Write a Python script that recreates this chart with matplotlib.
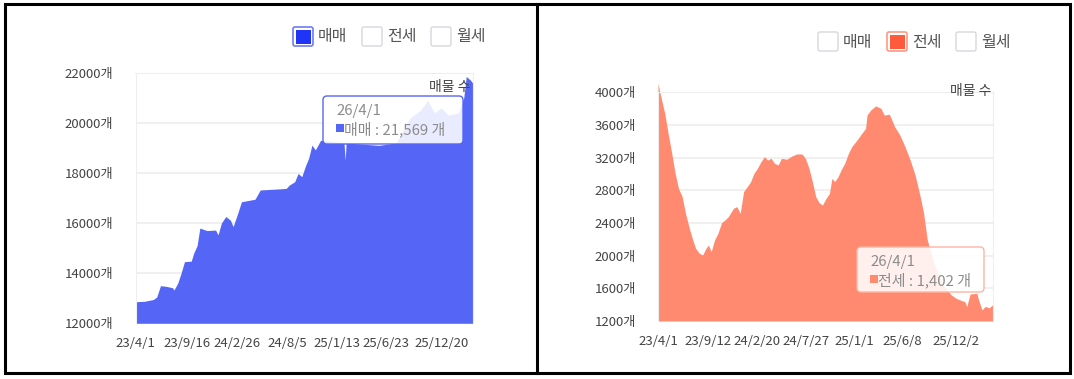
import matplotlib
matplotlib.use("Agg")
import matplotlib.pyplot as plt
import matplotlib.transforms as mtransforms
from matplotlib.patches import FancyBboxPatch, Rectangle
import pandas as pd

plt.rcParams["font.family"] = ["Noto Sans CJK KR", "DejaVu Sans"]

# 매매 매물 수
sale_dates = [
    "2023-04-01", "2023-05-01", "2023-05-29", "2023-06-09", "2023-06-21", "2023-07-07",
    "2023-07-30", "2023-08-04", "2023-08-16", "2023-08-27", "2023-09-07", "2023-09-29",
    "2023-10-07", "2023-10-18", "2023-10-27", "2023-11-19", "2023-12-17", "2023-12-25",
    "2024-01-05", "2024-01-19", "2024-02-03", "2024-02-12", "2024-02-27", "2024-03-10",
    "2024-04-23", "2024-05-10", "2024-08-02", "2024-08-13", "2024-08-30", "2024-09-10",
    "2024-09-22", "2024-10-03", "2024-10-14", "2024-10-25", "2024-11-05", "2024-11-22",
    "2025-02-06", "2025-02-10", "2025-02-13", "2025-04-06", "2025-05-31", "2025-07-26",
    "2025-09-09", "2025-10-13", "2025-11-04", "2025-11-27", "2025-12-19", "2026-01-10",
    "2026-02-13", "2026-03-02", "2026-03-10", "2026-03-24", "2026-04-01",
]
sale_values = [
    12860, 12880, 12950, 13050, 13500, 13480,
    13420, 13330, 13600, 14000, 14460, 14480,
    14800, 15100, 15800, 15700, 15720, 15530,
    16000, 16260, 16120, 15860, 16390, 16850,
    16950, 17320, 17380, 17520, 17650, 17980,
    17850, 18250, 18580, 19110, 18920, 19300,
    19200, 18500, 19200, 19150, 19100, 19200,
    20200, 20500, 20900, 20400, 20600, 20300,
    20400, 21000, 21850, 21700, 21569,
]

# 전세 매물 수
jeonse_dates = [
    "2023-04-01", "2023-04-09", "2023-04-23", "2023-05-05", "2023-05-16", "2023-05-27",
    "2023-06-07", "2023-06-19", "2023-06-30", "2023-07-11", "2023-07-22", "2023-08-02",
    "2023-08-14", "2023-08-25", "2023-09-05", "2023-09-13", "2023-09-22", "2023-10-03",
    "2023-10-14", "2023-10-26", "2023-11-06", "2023-11-17", "2023-12-04", "2023-12-15",
    "2023-12-26", "2024-01-06", "2024-01-18", "2024-01-29", "2024-02-09", "2024-02-20",
    "2024-03-03", "2024-03-14", "2024-03-25", "2024-04-05", "2024-04-16", "2024-04-28",
    "2024-05-09", "2024-05-26", "2024-06-12", "2024-06-28", "2024-07-15", "2024-07-26",
    "2024-08-07", "2024-08-18", "2024-08-29", "2024-09-09", "2024-09-20", "2024-10-02",
    "2024-10-13", "2024-10-21", "2024-10-30", "2024-11-10", "2024-11-21", "2024-12-02",
    "2024-12-14", "2024-12-25", "2025-01-11", "2025-01-27", "2025-02-08", "2025-02-13",
    "2025-02-25", "2025-03-13", "2025-03-30", "2025-04-10", "2025-04-27", "2025-05-14",
    "2025-05-31", "2025-06-17", "2025-07-04", "2025-07-20", "2025-08-06", "2025-08-17",
    "2025-08-29", "2025-09-20", "2025-10-18", "2025-11-15", "2025-12-02", "2025-12-19",
    "2025-12-30", "2026-01-05", "2026-01-16", "2026-02-07", "2026-02-13", "2026-02-24",
    "2026-03-07", "2026-03-19", "2026-04-01",
]
jeonse_values = [
    4110, 3967, 3743, 3478, 3253, 3008,
    2824, 2722, 2518, 2355, 2212, 2090,
    2029, 2008, 2090, 2130, 2049, 2192,
    2273, 2404, 2437, 2478, 2580, 2600,
    2518, 2784, 2845, 2906, 3008, 3069,
    3151, 3212, 3171, 3192, 3131, 3110,
    3192, 3180, 3220, 3245, 3245, 3192,
    3069, 2906, 2722, 2649, 2620, 2702,
    2763, 2947, 2906, 2967, 3057, 3131,
    3253, 3335, 3416, 3498, 3559, 3722,
    3784, 3833, 3804, 3722, 3731, 3580,
    3478, 3335, 3171, 2988, 2722, 2518,
    2192, 1900, 1650, 1520, 1477, 1450,
    1437, 1375, 1530, 1539, 1457, 1335,
    1380, 1360, 1402,
]

sale_ticks = ["2023-04-01", "2023-09-16", "2024-02-26", "2024-08-05", "2025-01-13", "2025-06-23", "2025-12-20"]
sale_tick_labels = ["23/4/1", "23/9/16", "24/2/26", "24/8/5", "25/1/13", "25/6/23", "25/12/20"]
jeonse_ticks = ["2023-04-01", "2023-09-12", "2024-02-20", "2024-07-27", "2025-01-01", "2025-06-08", "2025-12-02"]
jeonse_tick_labels = ["23/4/1", "23/9/12", "24/2/20", "24/7/27", "25/1/1", "25/6/8", "25/12/2"]

legend_names = ["매매", "전세", "월세"]

W, H = 1074, 379
fig = plt.figure(figsize=(W / 100, H / 100), dpi=100)
# pixel coordinates, origin top-left
pix = mtransforms.Affine2D().scale(1 / 100, -1 / 100).translate(0, H / 100) + fig.dpi_scale_trans

GRID = "#eeeeee"
TXT = "#444444"


def axes_at(x0, y0, x1, y1):
    return fig.add_axes([x0 / W, 1 - y1 / H, (x1 - x0) / W, (y1 - y0) / H])


def area_panel(ax, dates, values, ymin, ymax, step, color, ticks, tick_labels):
    x = pd.to_datetime(dates)
    ax.fill_between(x, values, ymin, color=color, linewidth=0, clip_on=False, zorder=2)
    ax.set_xlim(x[0], x[-1])
    ax.set_ylim(ymin, ymax)
    yt = list(range(ymin, ymax + 1, step))
    ax.set_yticks(yt)
    ax.set_yticklabels([f"{v}개" for v in yt])
    ax.set_xticks(pd.to_datetime(ticks))
    ax.set_xticklabels(tick_labels)
    ax.grid(axis="y", color=GRID, linewidth=1.2, zorder=0)
    ax.set_axisbelow(True)
    for s in ax.spines.values():
        s.set_color(GRID)
    ax.spines["bottom"].set_visible(False)
    ax.tick_params(length=0, labelsize=9.5, labelcolor=TXT)
    ax.tick_params(axis="y", pad=16)
    ax.tick_params(axis="x", pad=10)


def legend(x0, y0, active, color, edge):
    x = x0
    for i, name in enumerate(legend_names):
        if i == active:
            fig.add_artist(FancyBboxPatch((x, y0), 20, 19, boxstyle="round,pad=0,rounding_size=2",
                                          facecolor="white", edgecolor=edge, linewidth=1.2, transform=pix))
            fig.add_artist(Rectangle((x + 2.5, y0 + 2.5), 15, 14, facecolor=color,
                                     edgecolor="none", transform=pix))
        else:
            fig.add_artist(FancyBboxPatch((x, y0), 20, 19, boxstyle="round,pad=0,rounding_size=2",
                                          facecolor="white", edgecolor="#d5d8de", linewidth=1.0, transform=pix))
        fig.text(x + 25, y0 + 10, name, transform=pix, fontsize=11.5, color="#555555",
                 va="center", ha="left")
        x += 69


def tooltip(x0, y0, w, h, edge, color, label, value_text):
    fig.add_artist(FancyBboxPatch((x0, y0), w, h, boxstyle="round,pad=0,rounding_size=4",
                                  facecolor=(1, 1, 1, 0.88), edgecolor=edge, linewidth=1.0,
                                  transform=pix, zorder=5))
    fig.text(x0 + 13, y0 + 15, "26/4/1", transform=pix, fontsize=10.8, color="#8c8c8c",
             va="center", ha="left", zorder=6)
    fig.add_artist(Rectangle((x0 + 13, y0 + 28), 8, 8, facecolor=color, edgecolor="none",
                             transform=pix, zorder=6))
    fig.text(x0 + 21, y0 + 33, f"{label} : {value_text} 개", transform=pix, fontsize=10.8,
             color="#8c8c8c", va="center", ha="left", zorder=6)


# left panel: 매매
ax1 = axes_at(135.5, 72.7, 473, 323.3)
area_panel(ax1, sale_dates, sale_values, 12000, 22000, 2000, "#5566f7",
           sale_ticks, sale_tick_labels)
fig.text(470, 87, "매물 수", transform=pix, fontsize=10, color=TXT, ha="right", va="center", zorder=4)
legend(293, 27, 0, "#1f34f6", "#6d7cf8")
tooltip(323, 96, 140, 48, "#5566f7", "#5566f7", legend_names[0], f"{sale_values[-1]:,}")

# right panel: 전세
ax2 = axes_at(658, 92.3, 993, 321)
area_panel(ax2, jeonse_dates, jeonse_values, 1200, 4000, 400, "#ff8a70",
           jeonse_ticks, jeonse_tick_labels)
fig.text(991, 91, "매물 수", transform=pix, fontsize=10, color=TXT, ha="right", va="center", zorder=4)
legend(818, 32, 1, "#ff5a3c", "#ff9a85")
tooltip(857, 247, 127, 45, "#ffb4a3", "#ff8a70", legend_names[1], f"{jeonse_values[-1]:,}")

# outer frame and divider
fig.add_artist(Rectangle((5, 4), 1065, 369, facecolor="none", edgecolor="black",
                         linewidth=2.2, transform=pix))
fig.add_artist(plt.Line2D([536.5, 536.5], [4, 373], color="black", linewidth=2.2, transform=pix))

fig.savefig("out.png", dpi=100)
